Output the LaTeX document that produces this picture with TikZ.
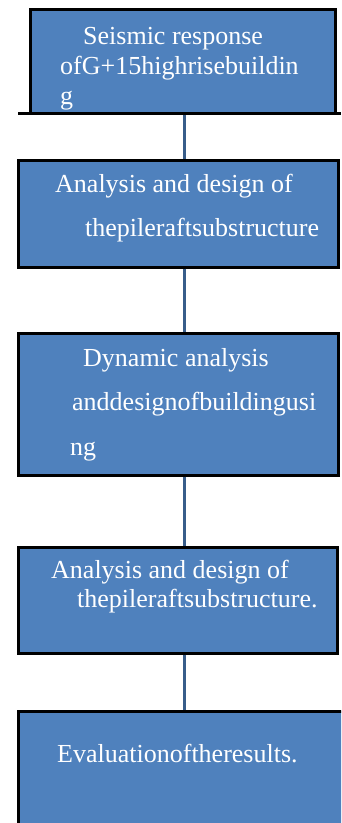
\documentclass[tikz,border=0pt]{standalone}
\usepackage{fontspec}
\setmainfont{Liberation Serif}
\usepackage{xcolor}
\usetikzlibrary{positioning}
\definecolor{boxblue}{HTML}{4F81BD}
\definecolor{linkblue}{HTML}{385D8A}

\begin{document}
\begin{tikzpicture}
  [
    x=1pt, y=-1pt,
    Box/.style={rectangle, draw=black, fill=boxblue, line width=3pt, inner sep=0pt},
    Txt/.style={anchor=north west, inner sep=0pt, align=left, text=white},
    Link/.style={draw=linkblue, line width=3pt}
  ]
  \useasboundingbox (0,0) rectangle (341,823);
  \clip (0,0) rectangle (341,823);
  % Boxes
  \node[Box, minimum width=304.5pt, minimum height=104pt] (b1) at (182.75, 61.5) {};
  \node[Box, minimum width=320pt, minimum height=107pt] (b2) at (178, 213.5) {};
  \node[Box, minimum width=320pt, minimum height=142pt] (b3) at (178, 404) {};
  \node[Box, minimum width=319pt, minimum height=106pt] (b4) at (177.5, 600) {};
  \node[Box, minimum width=328pt, minimum height=129pt] (b5) at (182, 775.5) {};
  \draw[line width=3pt] (18, 113.5) -- (341, 113.5);
  % Lines
  \coordinate (spine) at (184, 0);
  \path[Link] (spine |- b1.south) -- (spine |- b2.north);
  \path[Link] (spine |- b2.south) -- (spine |- b3.north);
  \path[Link] (spine |- b3.south) -- (spine |- b4.north);
  \path[Link] (spine |- b4.south) -- (spine |- b5.north);
  % Texts
  \node[Txt, font=\fontsize{26}{30}\selectfont] (t1) at (60, 23)
    {\strut\hspace*{23pt}Seismic response\\ofG+15highrisebuildin\\g};
  \node[Txt, font=\fontsize{26}{43.5}\selectfont] (t2) at (55, 162)
    {\strut Analysis and design of\\\hspace*{30pt}thepileraftsubstructure};
  \node[Txt, font=\fontsize{26}{44.5}\selectfont] (t3) at (70, 335)
    {\strut\hspace*{13pt}Dynamic analysis\\\hspace*{2pt}anddesignofbuildingusi\\ng};
  \node[Txt, font=\fontsize{26}{29}\selectfont] (t4) at (51, 557.7)
    {\strut Analysis and design of\\\hspace*{26pt}thepileraftsubstructure.};
  \node[Txt, font=\fontsize{26}{30}\selectfont] (t5) at (57, 741)
    {\strut Evaluationoftheresults.};
\end{tikzpicture}
\end{document}
